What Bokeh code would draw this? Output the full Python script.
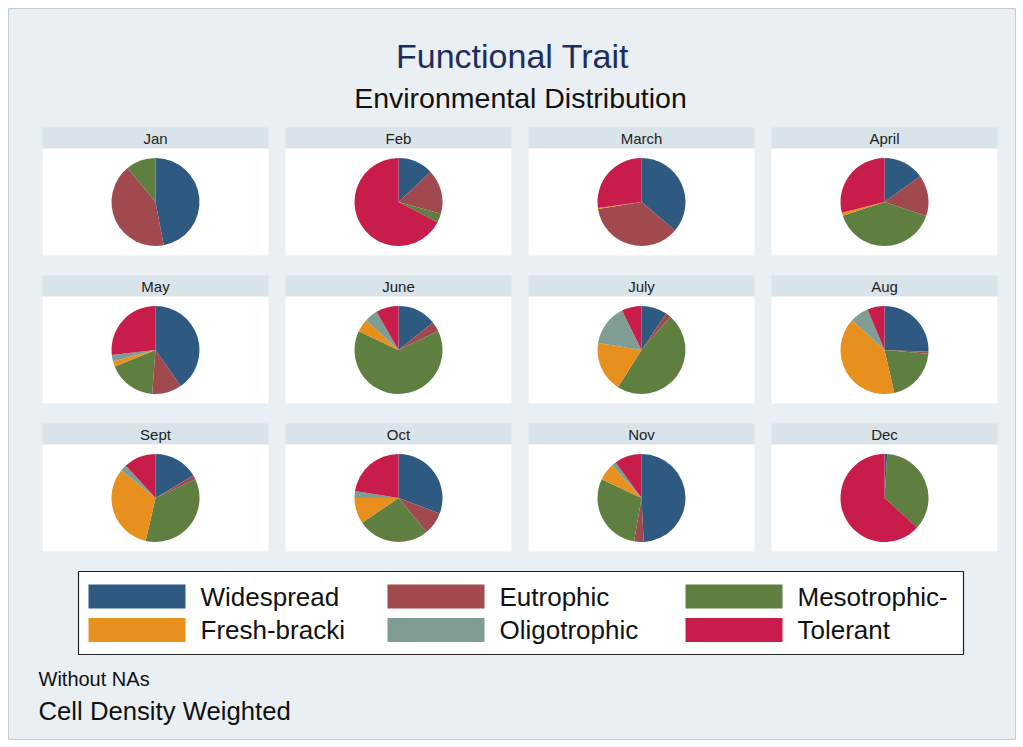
import numpy as np
from bokeh.plotting import figure
from bokeh.models import Range1d
from bokeh.core.properties import value
from bokeh.embed import file_html
from bokeh.resources import INLINE

# ---- data ----
months = ["Jan", "Feb", "March", "April", "May", "June",
          "July", "Aug", "Sept", "Oct", "Nov", "Dec"]
categories = ["Widespread", "Eutrophic", "Mesotrophic-",
              "Fresh-bracki", "Oligotrophic", "Tolerant"]
colors = ["#2e5a82", "#a0494f", "#5e7f3f", "#e8901e", "#7f9d93", "#c81c4a"]

widespread   = [0.470, 0.130, 0.362, 0.150, 0.403, 0.143, 0.095, 0.256, 0.165, 0.307, 0.492, 0.010]
eutrophic    = [0.420, 0.163, 0.363, 0.152, 0.109, 0.036, 0.019, 0.008, 0.015, 0.083, 0.035, 0.000]
mesotrophic  = [0.110, 0.033, 0.000, 0.397, 0.177, 0.641, 0.476, 0.200, 0.356, 0.265, 0.293, 0.357]
freshbracki  = [0.000, 0.000, 0.003, 0.012, 0.019, 0.048, 0.185, 0.404, 0.322, 0.095, 0.064, 0.000]
oligotrophic = [0.000, 0.000, 0.000, 0.000, 0.024, 0.049, 0.152, 0.069, 0.024, 0.025, 0.016, 0.000]
tolerant     = [0.000, 0.674, 0.272, 0.289, 0.268, 0.083, 0.073, 0.063, 0.118, 0.225, 0.100, 0.633]

series = [widespread, eutrophic, mesotrophic, freshbracki, oligotrophic, tolerant]

W, H = 1023, 747
FONT = value("Liberation Sans")
BG = "#e9eff3"

p = figure(width=W, height=H, output_backend="svg", toolbar_location=None,
           x_range=Range1d(0, W), y_range=Range1d(0, H), min_border=0)
p.axis.visible = False
p.grid.visible = False
p.background_fill_color = "white"
p.border_fill_color = "white"
p.outline_line_color = None

def fy(ref_y):
    return H - ref_y

def fx(ref_x):
    return ref_x

# background panel
p.quad(left=fx(8), right=fx(1015), top=fy(8), bottom=fy(739),
       fill_color=BG, line_color="#c4ccd2", line_width=1)

# ---- panels ----
col_left = [42, 285, 528, 771]
row_top = [127, 275, 423]
pw, hh, ph = 226, 21, 107

lab_x, lab_y = [], []
wx, wy, ws, we, wc = [], [], [], [], []
for i, m in enumerate(months):
    r, c = divmod(i, 4)
    left = fx(col_left[c])
    top = fy(row_top[r])
    cx = left + pw / 2
    p.quad(left=left, right=left + pw, top=top, bottom=top - hh,
           fill_color="#d9e3ea", line_color=None)
    p.quad(left=left, right=left + pw, top=top - hh, bottom=top - hh - ph,
           fill_color="white", line_color=None)
    lab_x.append(cx)
    lab_y.append(top - hh / 2)
    cy = top - hh - ph / 2
    vals = np.array([s[i] for s in series], dtype=float)
    vals = vals / vals.sum()
    cum = np.concatenate([[0], np.cumsum(vals)])
    for k in range(len(categories)):
        if vals[k] <= 0:
            continue
        wx.append(cx)
        wy.append(cy)
        ws.append(np.pi / 2 - 2 * np.pi * cum[k])
        we.append(np.pi / 2 - 2 * np.pi * cum[k + 1])
        wc.append(colors[k])

p.wedge(x=wx, y=wy, radius=44, radius_units="screen", start_angle=ws,
        end_angle=we, direction="clock", fill_color=wc, line_color=None)

p.text(x=lab_x, y=lab_y, text=months, text_font=FONT, text_font_size="15px",
       text_align="center", text_baseline="middle", text_color="#222222")

# ---- titles ----
p.text(x=[512], y=[fy(55)], text=["Functional Trait"], text_font=FONT,
       text_font_size="34px", text_align="center", text_baseline="middle",
       text_color="#1f2d5c")
p.text(x=[520], y=[fy(97)], text=["Environmental Distribution"], text_font=FONT,
       text_font_size="28.5px", text_align="center", text_baseline="middle",
       text_color="#111111")

# ---- legend ----
p.quad(left=fx(78), right=fx(963), top=fy(571), bottom=fy(654),
       fill_color="white", line_color="#222222", line_width=1.2)
sw_left = [88, 387, 685]
sw_w = 97
row_cy = [596, 629.5]
lx, ly, lt = [], [], []
for k, name in enumerate(categories):
    r, c = divmod(k, 3)
    left = fx(sw_left[c])
    cy = fy(row_cy[r])
    p.quad(left=left, right=left + sw_w, top=cy + 12, bottom=cy - 12,
           fill_color=colors[k], line_color=None)
    lx.append(left + sw_w + 15)
    ly.append(cy)
    lt.append(name)
p.text(x=lx, y=ly, text=lt, text_font=FONT, text_font_size="26px",
       text_align="left", text_baseline="middle", text_color="#111111")

# ---- notes ----
p.text(x=[fx(38)], y=[fy(678)], text=["Without NAs"], text_font=FONT,
       text_font_size="20px", text_align="left", text_baseline="middle",
       text_color="#111111")
p.text(x=[fx(38)], y=[fy(710)], text=["Cell Density Weighted"], text_font=FONT,
       text_font_size="25.7px", text_align="left", text_baseline="middle",
       text_color="#111111")

open("out.html", "w").write(file_html(p, INLINE))
